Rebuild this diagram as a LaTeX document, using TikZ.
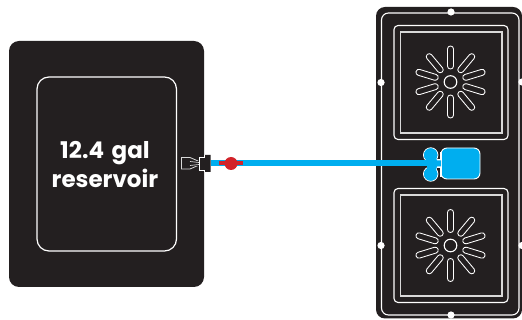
\documentclass[tikz,border=0pt]{standalone}
\usepackage{fontspec}
\setmainfont{Poppins}
\definecolor{ink}{HTML}{231F20}
\definecolor{wat}{HTML}{00AEEF}
\definecolor{rd}{HTML}{D2232A}
\tikzset{
 panel/.style={fill=ink,draw=none},
 wline/.style={draw=white,line width=1.1pt},
 spoke/.style={draw=white,line width=0.85pt,fill=ink,rounded corners=2.9pt},
 pegdot/.style={fill=white,draw=none},
 blueb/.style={fill=wat,draw=white,line width=0.9pt},
}
\newcommand{\burner}[2]{%
 \foreach \a in {90,50,17,-17,-50,-90,-130,-163,163,130}{
  \begin{scope}[shift={(#1,#2)},rotate=\a]
   \draw[spoke] (13,-3) rectangle (36,3);
  \end{scope}}
 \draw[wline] (#1,#2) circle[radius=6.3];
}
\newcommand{\oven}[2]{%
 \draw[wline,rounded corners=4pt] (394,#1) rectangle (508,#1+114);
 \draw[draw=white!85!black,line width=1.5pt] (400.5,#1+6.5) rectangle (502,#1+107.5);
 \burner{450.5}{#2}
}
\begin{document}
\begin{tikzpicture}[x=1pt,y=-1pt]
\useasboundingbox (0,0) rectangle (522,320);
% reservoir
\fill[panel,rounded corners=10pt] (9,41) rectangle (204,287);
\node[draw=white,line width=1.2pt,rounded corners=12pt,minimum width=139.5pt,minimum height=174pt,inner sep=0pt] (res) at (106.75,164) {};
\node[align=center,text=white,inner sep=0pt,font=\fontsize{23}{29}\selectfont\bfseries] (lab) at (105,165) {12.4\,\,gal\\reservoir};
% heater panel
\fill[panel,rounded corners=9pt] (376,7) rectangle (522,318.5);
\draw[wline,rounded corners=7pt] (381.5,13) rectangle (519,315);
\foreach \x/\y in {451/12,381/82.5,522/82,381/245.5,522/245.5,451/315}
  \fill[pegdot] (\x,\y) circle[radius=3.6];
\oven{25.5}{82}
\oven{188.5}{245.5}
% pump
\node[blueb,rounded corners=6pt,minimum width=39pt,minimum height=31pt,inner sep=0pt] (pump) at (460.5,163.5) {};
\coordinate (lobeA) at (430.7,155);
\coordinate (lobeB) at (430.7,174);
\fill[white] (434,152) rectangle (442,177);
\fill[ink] (437,150) rectangle (440.4,159);
\fill[ink] (437,168) rectangle (440.4,178);
\draw[blueb] (lobeA) circle[radius=7.2];
\draw[blueb] (lobeB) circle[radius=7.2];
\fill[wat] (lobeA) circle[radius=6.7];
\fill[wat] (lobeB) circle[radius=6.7];
\fill[wat] (427,155) -- (436,158) -- (437,160.5) -- (441,160.5) -- (441,166.5) -- (437,166.5) -- (436,170) -- (427,174) -- cycle;
% fitting
\coordinate (fitA) at (181,157);
\draw[draw=white!85!black,fill=ink,line width=0.8pt] (181.5,157.5) -- (190,157.5) -- (198,161) -- (198,165.5) -- (190,169) -- (181.5,169) -- cycle;
\fill[ink] (190,161) rectangle (199,166);
\draw[draw=white!85!black,line width=0.7pt] (190,161.5) -- (199,162.5) (190,165.5) -- (199,164.5);
\fill[ink] (199,157) -- (205,157) -- (205,155) -- (210.5,155) -- (210.5,172) -- (205,172) -- (205,170) -- (199,170) -- cycle;
\draw[white,line width=0.8pt] (199,170) -- (199,157.5) -- (204.5,157.5) -- (204.5,155.5) (199,170) -- (204.5,170) -- (204.5,172);
\coordinate (lineStart) at (211,163.5);
\coordinate (lineEnd) at (428,163.5);
% water line
\draw[wat,line width=6pt] (lineStart) -- (lineEnd);
\coordinate (valve) at (231,163.5);
\draw[rd,line width=4pt] ([xshift=-12pt]valve) -- ([xshift=12pt]valve);
\fill[rd] (valve) circle[radius=6.5];
\end{tikzpicture}
\end{document}
